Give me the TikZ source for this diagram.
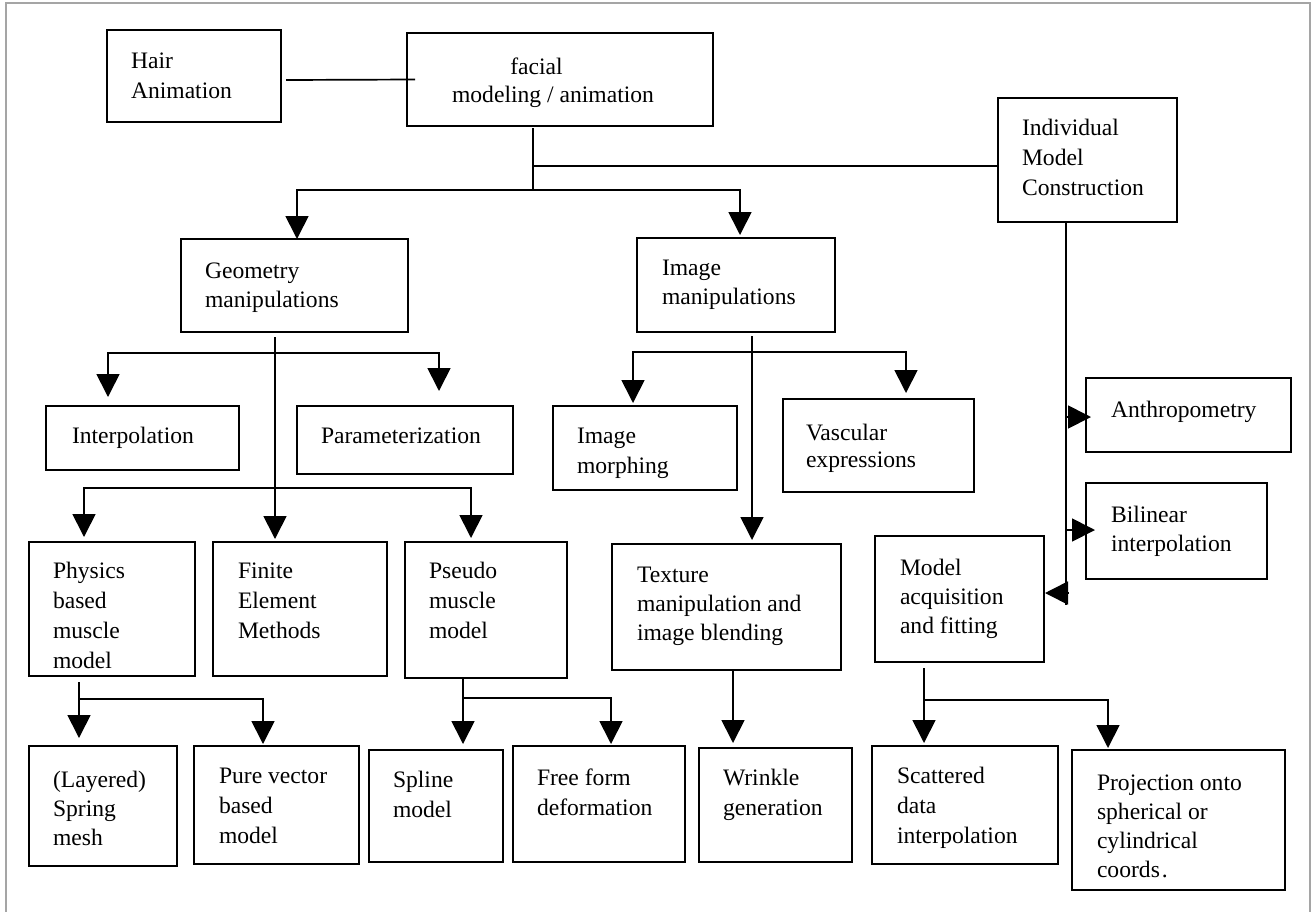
\documentclass[tikz,border=0pt]{standalone}
\usepackage{fontspec}
\setmainfont{Liberation Serif}
\usetikzlibrary{arrows.meta,calc}
\definecolor{framegray}{RGB}{165,165,165}
\begin{document}
\begin{tikzpicture}[x=1pt,y=-1pt,
  bx/.style={draw=black,line width=2pt,anchor=north west,inner sep=0pt,outer sep=0pt},
  txt/.style={anchor=north west,inner sep=0pt,outer sep=0pt,align=left,font=\fontsize{23.6pt}{30pt}\selectfont},
  conn/.style={line width=1.7pt,draw=black},
  arr/.style={conn,-{Triangle[length=23pt,width=23pt]}},
  framest/.style={draw=framegray,line width=2pt}]
\useasboundingbox (0,0) rectangle (1314,911);
\draw[framest] (6,3) rectangle (1310,930);

% boxes
\node[bx,minimum width=174pt,minimum height=92pt] (hair) at (107,30) {};
\node[bx,minimum width=306pt,minimum height=93pt] (facial) at (407,33) {};
\node[bx,minimum width=179pt,minimum height=124pt] (indiv) at (998,98) {};
\node[bx,minimum width=227pt,minimum height=93pt] (geo) at (181,239) {};
\node[bx,minimum width=198pt,minimum height=94pt] (img) at (637,238) {};
\node[bx,minimum width=193pt,minimum height=64pt] (interp) at (46,406) {};
\node[bx,minimum width=216pt,minimum height=68pt] (param) at (297,406) {};
\node[bx,minimum width=184pt,minimum height=84pt] (morph) at (553,406) {};
\node[bx,minimum width=191pt,minimum height=93pt] (vasc) at (783,399) {};
\node[bx,minimum width=205pt,minimum height=74pt] (anthro) at (1086,378) {};
\node[bx,minimum width=181pt,minimum height=96pt] (bilin) at (1086,483) {};
\node[bx,minimum width=166pt,minimum height=134pt] (phys) at (29,542) {};
\node[bx,minimum width=174pt,minimum height=134pt] (fem) at (213,542) {};
\node[bx,minimum width=162pt,minimum height=136pt] (pseudo) at (405,542) {};
\node[bx,minimum width=229pt,minimum height=126pt] (texture) at (612,544) {};
\node[bx,minimum width=169pt,minimum height=126pt] (model) at (875,536) {};
\node[bx,minimum width=148pt,minimum height=120pt] (layered) at (29,746) {};
\node[bx,minimum width=165pt,minimum height=118pt] (pure) at (194,746) {};
\node[bx,minimum width=134pt,minimum height=112pt] (spline) at (369,750) {};
\node[bx,minimum width=172pt,minimum height=116pt] (free) at (513,746) {};
\node[bx,minimum width=153pt,minimum height=114pt] (wrinkle) at (699,748) {};
\node[bx,minimum width=186pt,minimum height=118pt] (scat) at (872,746) {};
\node[bx,minimum width=213pt,minimum height=140pt] (proj) at (1072,750) {};

% texts
\node[txt] (hair-t) at (131,47) {\strut Hair\\Animation};
\node[txt,anchor=north,align=center] (facial-t) at (553,53) {\strut facial\hspace*{33pt}\\[-2pt]modeling / animation};
\node[txt] (indiv-t) at (1022,114) {\strut Individual\\Model\\Construction};
\node[txt] (geo-t) at (205,257) {\strut Geometry\\[-1pt]manipulations};
\node[txt] (img-t) at (662,254) {\strut Image\\[-1pt]manipulations};
\node[txt] (interp-t) at (72,422) {\strut Interpolation};
\node[txt] (param-t) at (321,422) {\strut Parameterization};
\node[txt] (morph-t) at (577,422) {\strut Image\\morphing};
\node[txt] (vasc-t) at (806,419) {\strut Vascular\\[-3pt]expressions};
\node[txt] (anthro-t) at (1111,396) {\strut Anthropometry};
\node[txt] (bilin-t) at (1111,501) {\strut Bilinear\\[-1pt]interpolation};
\node[txt] (phys-t) at (53,557) {\strut Physics\\based\\muscle\\model};
\node[txt] (fem-t) at (238,557) {\strut Finite\\Element\\Methods};
\node[txt] (pseudo-t) at (429,557) {\strut Pseudo\\muscle\\model};
\node[txt] (texture-t) at (637,561) {\strut Texture\\[-1pt]manipulation and\\[-1pt]image blending};
\node[txt] (model-t) at (900,554) {\strut Model\\[-1pt]acquisition\\[-1pt]and fitting};
\node[txt] (layered-t) at (53,766) {\strut (Layered)\\[-1pt]Spring\\[-1pt]mesh};
\node[txt] (pure-t) at (219,762) {\strut Pure vector\\based\\model};
\node[txt] (spline-t) at (393,766) {\strut Spline\\model};
\node[txt] (free-t) at (537,764) {\strut Free form\\deformation};
\node[txt] (wrinkle-t) at (723,764) {\strut Wrinkle\\generation};
\node[txt] (scat-t) at (897,762) {\strut Scattered\\data\\interpolation};
\node[txt] (proj-t) at (1097,769) {\strut Projection onto\\[-1pt]spherical or\\[-1pt]cylindrical\\[-1pt]coords\kern2pt.};

% junction coordinates
\coordinate (fk) at (533,166);
\coordinate (fj) at (533,190);
\coordinate (g1) at (275,353);
\coordinate (g2) at (275,488);
\coordinate (i1) at (752,352);
\coordinate (iv) at (1066,605);
\coordinate (ia) at (1066,417);
\coordinate (ib) at (1067,530);
\coordinate (im) at (1068,593);
\coordinate (p1) at (79,699);
\coordinate (s1) at (463,698);
\coordinate (m1) at (924,700);

% connectors
\draw[conn] ($(hair.east)+(5,4)$) -- ($(facial.west)+(8,0)$);
\draw[conn] ($(facial.south west)+(126,2)$) -- (fj);
\draw[conn] (fk) -- (fk -| indiv.west);
\draw[arr] (fj) -| ($(geo.north west)+(116,0)$);
\draw[arr] (fj) -| ($(img.north west)+(103,-3)$);

\draw[arr] ($(geo.south west)+(94,5)$) -- ($(fem.north west)+(62,-3)$);
\draw[arr] (g1) -| ($(interp.north west)+(62,-9)$);
\draw[arr] (g1) -| ($(param.north west)+(142,-15)$);
\draw[arr] (g2) -| ($(phys.north west)+(55,-5)$);
\draw[arr] (g2) -| ($(pseudo.north west)+(66,-4)$);

\draw[arr] ($(img.south west)+(115,4)$) -- ($(texture.north west)+(140,-4)$);
\draw[arr] (i1) -| ($(morph.north west)+(80,-3)$);
\draw[arr] (i1) -| ($(vasc.north west)+(123,-6)$);

\draw[conn] ($(indiv.south west)+(68,0)$) -- (iv);
\draw[arr] (ia) -- ($(anthro.west)+(5,2)$);
\draw[arr] (ib) -- ($(bilin.west)+(9,-1)$);
\draw[arr] (im) -- ($(model.east)+(1,-6)$);

\draw[arr] ($(phys.south west)+(50,6)$) -- ($(layered.north west)+(50,-8)$);
\draw[arr] (p1) -| ($(pure.north west)+(69,-2)$);
\draw[arr] ($(pseudo.south west)+(58,0)$) -- ($(spline.north west)+(94,-6)$);
\draw[arr] (s1) -| ($(free.north west)+(98,-2)$);
\draw[arr] ($(texture.south west)+(121,0)$) -- ($(wrinkle.north west)+(34,-5)$);
\draw[arr] ($(model.south west)+(49,6)$) -- ($(scat.north west)+(52,-3)$);
\draw[arr] (m1) -| ($(proj.north west)+(36,-2)$);
\end{tikzpicture}
\end{document}
